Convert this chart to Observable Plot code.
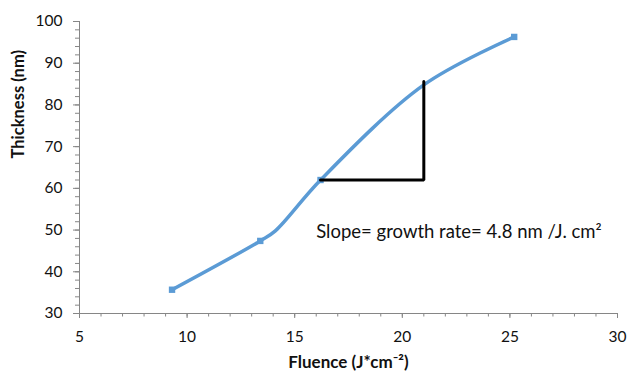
<!DOCTYPE html>
<html>
<head>
<meta charset="utf-8">
<script src="https://cdn.jsdelivr.net/npm/d3@7"></script>
<script src="https://cdn.jsdelivr.net/npm/@observablehq/plot@0.6"></script>
<style>
  html, body { margin: 0; padding: 0; background: #fff; }
  svg { font-family: Lato, "Open Sans", sans-serif; }
</style>
</head>
<body>
<div id="chart"></div>
<script>
const fluence   = [9.3, 13.4, 16.2, 25.2];
const thickness = [35.7, 47.4, 62.0, 96.3];

// Points the smoothed line passes through (incl. two unmarked vertices)
const lineFluence   = [9.3, 13.4, 14.1, 16.2, 21.0, 25.2];
const lineThickness = [35.7, 47.4, 49.8, 62.0, 84.8, 96.3];

// slope triangle (annotation)
const triX = [16.2, 21.0, 21.0];
const triY = [62.0, 62.0, 85.6];

const noteText = "Slope= growth rate= 4.8 nm /J. cm²";
const noteX = [16.0];
const noteY = [49.6];

const xMajorTicks = [5, 10, 15, 20, 25, 30];
const xMinorTicks = d3.range(5, 31, 1);
const yMajorTicks = [30, 40, 50, 60, 70, 80, 90, 100];
const yMinorTicks = d3.range(30, 101, 2);

const xLabel = "Fluence (J*cm⁻²)";
const yLabel = "Thickness (nm)";

const markers = fluence.map((f, i) => ({x: f, y: thickness[i]}));
const path = lineFluence.map((f, i) => ({x: f, y: lineThickness[i]}));
const tri = triX.map((x, i) => ({x, y: triY[i]}));
const note = noteX.map((x, i) => ({x, y: noteY[i], t: noteText}));

const axisColor = "#868686";
const blue = "#5b9bd5";

const chart = Plot.plot({
  width: 627,
  height: 372,
  marginLeft: 79,
  marginRight: 10,
  marginTop: 21,
  marginBottom: 59,
  style: {fontFamily: "Lato, 'Open Sans', sans-serif", background: "#fff"},
  x: {domain: [5, 30]},
  y: {domain: [30, 100]},
  marks: [
    // minor ticks
    Plot.axisX({ticks: xMinorTicks, tickSize: 3.5, text: null, stroke: axisColor, label: null}),
    Plot.axisY({ticks: yMinorTicks, tickSize: 4, text: null, stroke: axisColor, label: null}),
    // major ticks + labels
    Plot.axisX({ticks: xMajorTicks, tickSize: 5, tickPadding: 12, stroke: axisColor, fill: "#111", fontSize: 15.5, label: null}),
    Plot.axisY({ticks: yMajorTicks, tickSize: 6, tickPadding: 11, stroke: axisColor, fill: "#111", fontSize: 15.5, label: null}),
    // axis lines
    Plot.ruleY([30], {stroke: axisColor, strokeWidth: 1}),
    Plot.ruleX([5], {stroke: axisColor, strokeWidth: 1}),
    // data line
    Plot.line(path, {x: "x", y: "y", curve: "catmull-rom", stroke: blue, strokeWidth: 3.5}),
    Plot.dot(markers, {x: "x", y: "y", symbol: "square", r: 3.6, fill: blue, stroke: "none"}),
    // slope triangle
    Plot.line(tri, {x: "x", y: "y", stroke: "#000", strokeWidth: 3, strokeLinejoin: "miter"}),
    // annotation
    Plot.text(note, {x: "x", y: "y", text: "t", textAnchor: "start", fontSize: 18.5, fill: "#111"}),
    // axis titles
    Plot.text([xLabel], {frameAnchor: "bottom", text: d => d, dy: 54, fontSize: 17, fontWeight: "bold", fill: "#111"}),
    Plot.text([yLabel], {frameAnchor: "left", text: d => d, rotate: -90, dx: -61, dy: -9, fontSize: 16.5, fontWeight: "bold", fill: "#111"})
  ]
});
document.getElementById("chart").appendChild(chart);
</script>
</body>
</html>
